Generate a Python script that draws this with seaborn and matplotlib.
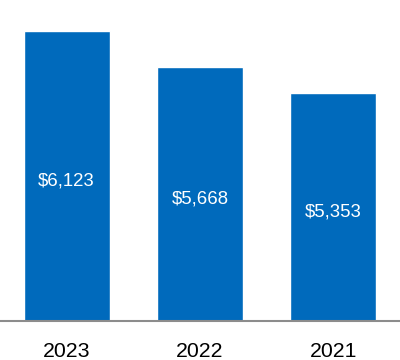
import matplotlib
matplotlib.use("Agg")
import matplotlib.pyplot as plt
import pandas as pd
import seaborn as sns

years = ["2023", "2022", "2021"]
values = [6123, 5668, 5353]
value_labels = ["$6,123", "$5,668", "$5,353"]

sns.set_theme(style="white")
plt.rcParams["font.family"] = ["Liberation Sans", "DejaVu Sans"]

df = pd.DataFrame({"year": years, "value": values})

fig = plt.figure(figsize=(4.0, 3.6), dpi=100)
ax = fig.add_axes([0.0, 0.108, 1.0, 0.892])
sns.barplot(data=df, x="year", y="value", order=years, color="#006ABC",
            saturation=1, width=0.645, ax=ax)

ybottom, ytop = 2540, 6500
ax.set_ylim(ybottom, ytop)
ax.set_xlim(-0.5, 2.5)

for i, (v, lab) in enumerate(zip(values, value_labels)):
    ax.text(i, (ybottom + v) / 2 - 60, lab, ha="center", va="center",
            color="white", fontsize=13.4)

for side in ("left", "right", "top"):
    ax.spines[side].set_visible(False)
ax.spines["bottom"].set_color("#8c8c8c")
ax.spines["bottom"].set_linewidth(1.5)
ax.set_yticks([])
ax.set_xlabel("")
ax.set_ylabel("")
ax.tick_params(axis="x", length=0, pad=15, labelsize=15.3, labelcolor="black")

fig.savefig("out.png", dpi=100)
